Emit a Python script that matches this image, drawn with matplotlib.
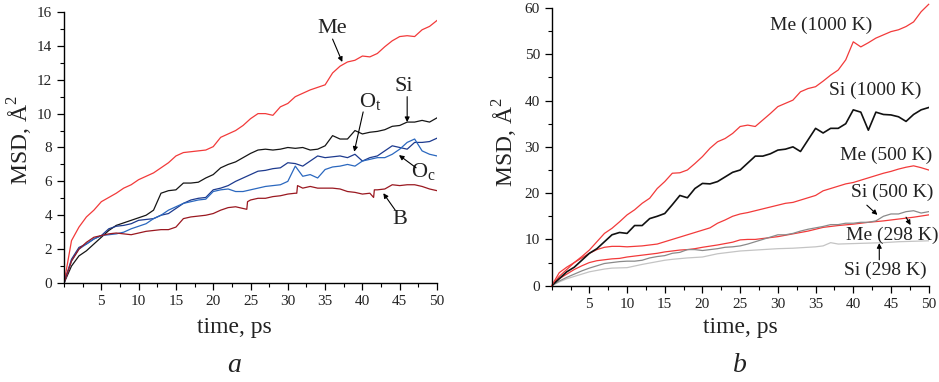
import matplotlib
matplotlib.use('Agg')
import matplotlib.pyplot as plt
from matplotlib.ticker import MultipleLocator

plt.rcParams['font.family'] = ['Liberation Serif', 'DejaVu Serif']
plt.rcParams['mathtext.fontset'] = 'custom'
plt.rcParams['mathtext.rm'] = 'Liberation Serif'

# ---- panel a: 1000 K, all atoms ----
t_a = list(range(0, 51))
me_a = [0.0, 2.5, 3.3, 3.9, 4.3, 4.8, 5.05, 5.3, 5.6, 5.8, 6.1, 6.3, 6.5, 6.8, 7.1, 7.5, 7.7, 7.75, 7.8, 7.85,
        8.05, 8.6, 8.8, 9.0, 9.3, 9.7, 10.0, 10.0, 9.9, 10.4, 10.6, 11.0, 11.2, 11.4, 11.55, 11.7, 12.4, 12.8,
        13.05, 13.15, 13.4, 13.35, 13.55, 13.95, 14.3, 14.55, 14.6, 14.55, 14.95, 15.15, 15.5]
si_a = [0.0, 1.0, 1.6, 1.9, 2.3, 2.7, 3.1, 3.4, 3.55, 3.7, 3.85, 4.0, 4.3, 5.3, 5.45, 5.5, 5.9, 5.9, 5.95, 6.2,
        6.4, 6.8, 7.0, 7.15, 7.4, 7.65, 7.85, 7.9, 7.85, 7.9, 8.0, 7.95, 8.0, 7.85, 7.9, 8.1, 8.7, 8.5, 8.5, 9.0,
        8.8, 8.9, 8.95, 9.05, 9.25, 9.3, 9.5, 9.5, 9.6, 9.5, 9.75]
ot_a = [0.0, 1.4, 2.1, 2.3, 2.6, 2.8, 3.2, 3.35, 3.4, 3.5, 3.7, 3.75, 3.8, 4.0, 4.1, 4.4, 4.7, 4.9, 5.0, 5.05,
        5.5, 5.6, 5.75, 6.0, 6.2, 6.4, 6.6, 6.65, 6.75, 6.8, 7.1, 7.05, 6.9, 7.2, 7.5, 7.4, 7.45, 7.5, 7.4, 7.6,
        7.2, 7.4, 7.5, 7.8, 8.1, 8.0, 7.9, 8.3, 8.3, 8.35, 8.55]
oc_a = [0.0, 1.3, 2.0, 2.3, 2.6, 2.8, 2.85, 2.9, 3.0, 3.2, 3.35, 3.5, 3.8, 4.0, 4.3, 4.5, 4.7, 4.8, 4.9, 4.95,
        5.4, 5.5, 5.55, 5.4, 5.4, 5.5, 5.6, 5.7, 5.75, 5.8, 6.0, 6.9, 6.3, 6.4, 6.2, 6.7, 6.85, 6.9, 7.0, 6.9,
        7.2, 7.3, 7.4, 7.4, 7.6, 7.9, 8.3, 8.5, 7.8, 7.6, 7.5]
t_b = [0, 1, 2, 3, 4, 5, 6, 7, 8, 9, 10, 11, 12, 13, 14, 15, 16, 17, 18, 19, 20, 21, 22, 23, 24, 24.5, 24.6,
       25, 26, 27, 28, 29, 30, 31, 31.2, 31.3, 32, 33, 34, 35, 36, 37, 38, 39, 40, 41, 41.5, 41.6, 42, 43, 44,
       45, 46, 47, 48, 49, 50]
b_a = [0.0, 1.3, 2.0, 2.4, 2.7, 2.8, 2.9, 2.95, 2.9, 2.85, 2.95, 3.05, 3.1, 3.15, 3.15, 3.3, 3.8, 3.9, 3.95,
       4.0, 4.1, 4.3, 4.45, 4.5, 4.4, 4.35, 4.8, 4.9, 5.0, 5.0, 5.1, 5.15, 5.25, 5.3, 5.3, 5.75, 5.6, 5.7, 5.6,
       5.6, 5.6, 5.55, 5.4, 5.35, 5.25, 5.3, 5.05, 5.5, 5.5, 5.55, 5.8, 5.75, 5.8, 5.8, 5.7, 5.55, 5.45]

# ---- panel b: temperature dependence ----
t_r = list(range(0, 51))
me1000 = [0.0, 2.8, 4.0, 5.0, 6.3, 7.7, 9.5, 11.3, 12.4, 13.8, 15.3, 16.4, 17.8, 18.9, 21.0, 22.5, 24.3, 24.4,
          25.0, 26.4, 27.9, 29.7, 31.1, 31.8, 32.9, 34.4, 34.7, 34.4, 35.8, 37.2, 38.7, 39.4, 40.1, 41.9, 42.6,
          43.0, 44.2, 45.5, 46.6, 48.8, 52.7, 51.6, 52.5, 53.5, 54.2, 54.9, 55.3, 56.0, 57.0, 59.2, 60.8]
si1000 = [0.0, 1.5, 3.0, 4.0, 5.5, 7.0, 8.0, 9.5, 11.0, 11.5, 11.3, 13.0, 13.0, 14.5, 15.0, 15.6, 17.5, 19.5,
          19.0, 21.0, 22.1, 22.0, 22.5, 23.5, 24.5, 25.0, 26.5, 28.0, 28.0, 28.5, 29.3, 29.5, 30.0, 29.0, 31.5,
          34.0, 33.0, 34.0, 34.0, 35.0, 38.0, 37.5, 33.6, 37.5, 37.0, 36.9, 36.5, 35.5, 37.0, 38.0, 38.5]
me500 = [0.0, 2.0, 3.5, 5.0, 6.0, 7.0, 7.8, 8.3, 8.5, 8.5, 8.4, 8.5, 8.6, 8.8, 9.0, 9.5, 10.0, 10.5, 11.0,
         11.5, 12.0, 12.5, 13.5, 14.2, 15.0, 15.5, 15.8, 16.2, 16.6, 17.0, 17.4, 17.8, 18.0, 18.5, 19.0, 19.5,
         20.5, 21.0, 21.5, 22.0, 22.3, 22.8, 23.3, 23.8, 24.3, 24.7, 25.2, 25.6, 25.9, 25.5, 25.0]
t_q = [0, 1, 2, 3, 4, 5, 6, 7, 8, 9, 10, 12, 14, 15, 16, 17, 18, 19, 20, 22, 24, 25, 26, 27, 28, 30, 32, 34,
       35, 36, 38, 40, 42, 44, 46, 48, 50]
me298 = [0.0, 1.5, 2.5, 3.5, 4.3, 5.0, 5.4, 5.6, 5.8, 5.9, 6.2, 6.6, 7.0, 7.3, 7.5, 7.7, 7.8, 8.0, 8.3, 8.8,
         9.4, 9.9, 10.0, 10.0, 10.2, 10.6, 11.2, 11.8, 12.2, 12.6, 13.0, 13.3, 13.7, 14.0, 14.4, 14.8, 15.3]
si500 = [0.0, 1.0, 1.8, 2.5, 3.2, 3.8, 4.3, 4.8, 5.0, 5.2, 5.3, 5.3, 5.5, 6.0, 6.3, 6.5, 7.0, 7.2, 7.8, 7.8,
         7.6, 7.8, 8.0, 8.3, 8.4, 8.6, 9.0, 9.5, 10.0, 10.5, 11.0, 11.0, 11.3, 11.8, 12.2, 12.5, 12.8, 13.2,
         13.2, 13.5, 13.5, 13.7, 13.7, 14.0, 15.0, 15.5, 15.5, 16.0, 16.2, 15.7, 16.0]
t_s = [0, 1, 2, 3, 4, 5, 6, 7, 8, 10, 12, 14, 15, 16, 18, 20, 22, 24, 25, 26, 28, 30, 32, 34, 35, 36, 37, 38,
       40, 42, 44, 46, 48, 50]
si298 = [0.0, 0.8, 1.5, 2.0, 2.5, 3.0, 3.3, 3.6, 3.8, 3.9, 4.6, 5.2, 5.5, 5.7, 6.0, 6.2, 6.9, 7.3, 7.5, 7.6,
         7.8, 8.0, 8.1, 8.3, 8.4, 8.6, 9.3, 9.0, 9.1, 9.2, 9.3, 9.5, 9.6, 9.7]

RED = '#f23a3a'
TXT = '#222222'

fig = plt.figure(figsize=(9.39, 3.82), dpi=100)
ax1 = fig.add_axes([0.0682, 0.2592, 0.3972, 0.7094])
ax2 = fig.add_axes([0.5875, 0.2521, 0.4015, 0.7269])


def style(ax, ymax, ymaj, ymin):
    ax.set_xlim(0, 50)
    ax.set_ylim(0, ymax)
    for s in ('top', 'right'):
        ax.spines[s].set_visible(False)
    for s in ('left', 'bottom'):
        ax.spines[s].set_linewidth(1.0)
    ax.xaxis.set_major_locator(MultipleLocator(5))
    ax.xaxis.set_minor_locator(MultipleLocator(2.5))
    ax.yaxis.set_major_locator(MultipleLocator(ymaj))
    ax.yaxis.set_minor_locator(MultipleLocator(ymin))
    ax.tick_params(which='major', direction='out', length=5, width=0.9, labelsize=11, colors='black',
                   labelcolor=TXT)
    ax.tick_params(which='minor', direction='out', length=3, width=0.8)
    ax.set_xticks(range(5, 51, 5))
    ax.set_xticklabels([str(v) for v in range(5, 51, 5)])


style(ax1, 16, 2, 1)
style(ax2, 60, 10, 5)

ax1.plot(t_a, me_a, color=RED, lw=0.9)
ax1.plot(t_a, si_a, color='#151515', lw=0.9)
ax1.plot(t_a, ot_a, color='#1d3a8e', lw=0.9)
ax1.plot(t_a, oc_a, color='#2b68bf', lw=0.9)
ax1.plot(t_b, b_a, color='#9a1820', lw=0.9)

ax2.plot(t_q, me298, color=RED, lw=0.9)
ax2.plot(t_s, si298, color='#c4c4c4', lw=0.9)
ax2.plot(t_r, si500, color='#8a8a8a', lw=0.9)
ax2.plot(t_r, me500, color=RED, lw=0.9)
ax2.plot(t_r, si1000, color='#111111', lw=1.2)
ax2.plot(t_r, me1000, color=RED, lw=0.9, clip_on=False)

arr = dict(arrowstyle='-|>', color='black', lw=0.8, mutation_scale=7, shrinkA=0, shrinkB=0)


def label(ax, text, pos, size):
    ax.text(pos[0], pos[1], text, ha='center', va='center', fontsize=size, color=TXT)


def arrow(ax, tip, tail):
    ax.annotate('', xy=tip, xytext=tail, arrowprops=arr)


# panel a labels
label(ax1, 'Me', (36.0, 15.0), 16)
arrow(ax1, (37.3, 13.05), (36.0, 14.4))
label(ax1, 'Si', (45.6, 11.6), 16)
arrow(ax1, (46.0, 9.5), (46.0, 11.0))
label(ax1, r'O$_\mathregular{t}$', (41.1, 10.7), 16)
arrow(ax1, (38.9, 7.75), (40.1, 10.1))
label(ax1, r'O$_\mathregular{c}$', (48.2, 6.55), 16)
arrow(ax1, (44.9, 7.55), (47.2, 6.8))
label(ax1, 'B', (45.0, 3.75), 16)
arrow(ax1, (42.8, 5.3), (44.4, 4.3))

# panel b labels
label(ax2, 'Me (1000 K)', (35.8, 56.3), 14)
label(ax2, 'Si (1000 K)', (42.9, 42.3), 14)
label(ax2, 'Me (500 K)', (44.4, 28.2), 14)
label(ax2, 'Si (500 K)', (45.1, 20.1), 14)
arrow(ax2, (43.2, 15.3), (41.8, 17.4))
label(ax2, 'Me (298 K)', (45.2, 10.9), 14)
arrow(ax2, (47.6, 13.1), (47.0, 14.8))
label(ax2, 'Si (298 K)', (44.3, 3.4), 14)
arrow(ax2, (43.45, 9.2), (43.45, 5.6))

fig.text(20 / 939, 1 - 140 / 382, r'MSD, Å$^\mathregular{2}$', rotation=90, ha='center', va='center',
         fontsize=17, color=TXT)
fig.text(505 / 939, 1 - 142 / 382, r'MSD, Å$^\mathregular{2}$', rotation=90, ha='center', va='center',
         fontsize=17, color=TXT)
fig.text(234 / 939, 1 - 327 / 382, 'time, ps', ha='center', va='center', fontsize=17, color=TXT)
fig.text(740 / 939, 1 - 327 / 382, 'time, ps', ha='center', va='center', fontsize=17, color=TXT)
fig.text(234 / 939, 1 - 366 / 382, 'a', ha='center', va='center', fontsize=20, style='italic', color=TXT)
fig.text(740 / 939, 1 - 366 / 382, 'b', ha='center', va='center', fontsize=20, style='italic', color=TXT)

fig.savefig('out.png', dpi=100)
